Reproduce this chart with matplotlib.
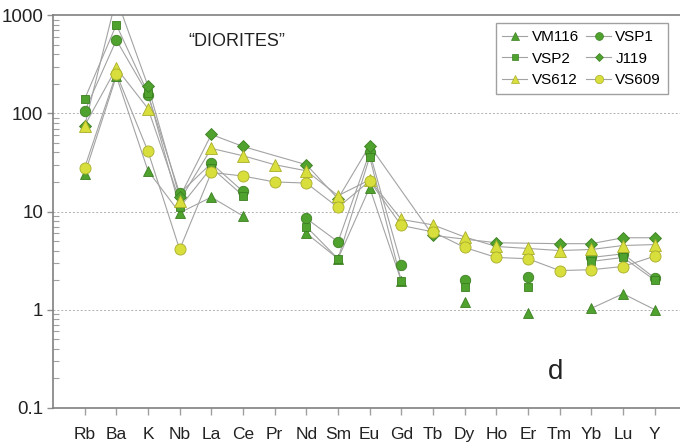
import numpy as np
import matplotlib
matplotlib.use("Agg")
import matplotlib.pyplot as plt
from matplotlib.lines import Line2D
from matplotlib.ticker import LogLocator, FixedLocator, NullFormatter

plt.rcParams['font.family'] = ['Liberation Sans', 'DejaVu Sans']

nan = np.nan
elements = ['Rb', 'Ba', 'K', 'Nb', 'La', 'Ce', 'Pr', 'Nd', 'Sm', 'Eu',
            'Gd', 'Tb', 'Dy', 'Ho', 'Er', 'Tm', 'Yb', 'Lu', 'Y']

vm116 = [24, 240, 26, 9.7, 14, 9, nan, 6.0, 3.3, 17.5, 1.95, nan, 1.2, nan, 0.92, nan, 1.03, 1.45, 1.0]
vsp1 = [105, 560, 155, 15.3, 31, 16, nan, 8.5, 4.9, 40, 2.85, nan, 2.0, nan, 2.15, nan, 3.4, 3.7, 2.1]
vsp2 = [140, 800, 160, 11, 28, 14.5, nan, 7.0, 3.3, 36, 1.95, nan, 1.7, nan, 1.7, nan, 3.1, 3.4, 2.0]
j119 = [75, 1500, 190, 14, 61, 46, nan, 30, 13.5, 47, nan, 5.7, nan, 4.8, nan, 4.7, 4.7, 5.4, 5.4]
vs612 = [75, 290, 112, 12.9, 44, 37, 30, 26, 14.5, 21, 8.3, 7.3, 5.5, 4.4, 4.2, 4.0, 4.1, 4.5, 4.6]
vs609 = [28, 255, 41, 4.1, 25, 23, 20, 19.5, 11, 20.5, 7.2, 6.2, 4.3, 3.4, 3.3, 2.5, 2.55, 2.75, 3.5]

green = '#4fa22e'
green_edge = '#3d7f22'
yellow = '#d8df3c'
yellow_edge = '#a9ae2a'
line_col = '#a3a3a3'

# name, values, marker, size, face, edge, bridge gaps
series = [
    ('VM116', vm116, '^', 7.5, green, green_edge, False),
    ('VSP1', vsp1, 'o', 7.5, green, green_edge, False),
    ('VSP2', vsp2, 's', 6.3, green, green_edge, False),
    ('J119', j119, 'D', 5.8, green, green_edge, True),
    ('VS612', vs612, '^', 8, yellow, yellow_edge, False),
    ('VS609', vs609, 'o', 8, yellow, yellow_edge, False),
]

fig = plt.figure(figsize=(6.8, 4.43), dpi=100)
ax = fig.add_axes([53 / 680, 35.3 / 443, 1 - 53 / 680, (407.7 - 15.3) / 443])

x = np.arange(len(elements))
handles = {}
for name, vals, mk, ms, fc, ec, bridge in series:
    y = np.array(vals, dtype=float)
    if bridge:
        ok = ~np.isnan(y)
        ax.plot(x[ok], y[ok], color=line_col, lw=0.8, zorder=2)
    else:
        ax.plot(x, y, color=line_col, lw=0.8, zorder=2)
    ax.plot(x, y, ls='none', marker=mk, ms=ms, mfc=fc, mec=ec, mew=0.6, zorder=3)
    handles[name] = Line2D([], [], color=line_col, lw=0.8, marker=mk, ms=ms * 0.75,
                           mfc=fc, mec=ec, mew=0.5)

ax.set_yscale('log')
ax.set_ylim(0.1, 1000)
ax.set_xlim(-1, 18.8)

ax.set_xticks(x)
ax.set_xticklabels(elements, fontsize=12.5, color='#222222')
ax.tick_params(axis='x', direction='out', length=5, width=1, color='#a0a0a0', pad=9)

ax.yaxis.set_major_locator(FixedLocator([0.1, 1, 10, 100, 1000]))
ax.set_yticklabels(['0.1', '1', '10', '100', '1000'])
ax.yaxis.set_minor_locator(LogLocator(base=10, subs=np.arange(2, 10)))
ax.yaxis.set_minor_formatter(NullFormatter())
ax.tick_params(axis='y', which='major', direction='out', length=4, width=1,
               color='#909090', labelsize=13.5, labelcolor='#222222', pad=3)
ax.tick_params(axis='y', which='minor', direction='in', length=4, width=0.8, color='#a0a0a0')

for v in [1, 10, 100]:
    ax.axhline(v, color='#b0b0b0', lw=0.7, ls=(0, (2, 2)), zorder=1)

for side in ['left', 'bottom', 'top']:
    ax.spines[side].set_color('#808080')
    ax.spines[side].set_linewidth(1.2)
ax.spines['right'].set_visible(False)

ax.text(237 / 680, 1 - 42 / 443, '\u201cDIORITES\u201d', transform=fig.transFigure,
        ha='center', va='center', fontsize=13, color='#222222')
ax.text(556 / 680, 1 - 372 / 443, 'd', transform=fig.transFigure,
        ha='center', va='center', fontsize=20, color='#222222')

order = ['VM116', 'VSP2', 'VS612', 'VSP1', 'J119', 'VS609']
leg = ax.legend([handles[n] for n in order], order, ncol=2, loc='upper right',
                bbox_to_anchor=(668 / 680, 1 - 23 / 443), bbox_transform=fig.transFigure,
                borderaxespad=0, fontsize=11, frameon=True, fancybox=False, framealpha=1,
                edgecolor='#a0a0a0', handlelength=1.6, handletextpad=0.3,
                columnspacing=0.5, labelspacing=0.5, borderpad=0.45)
leg.get_frame().set_linewidth(1)

fig.savefig('out.png', dpi=100)
